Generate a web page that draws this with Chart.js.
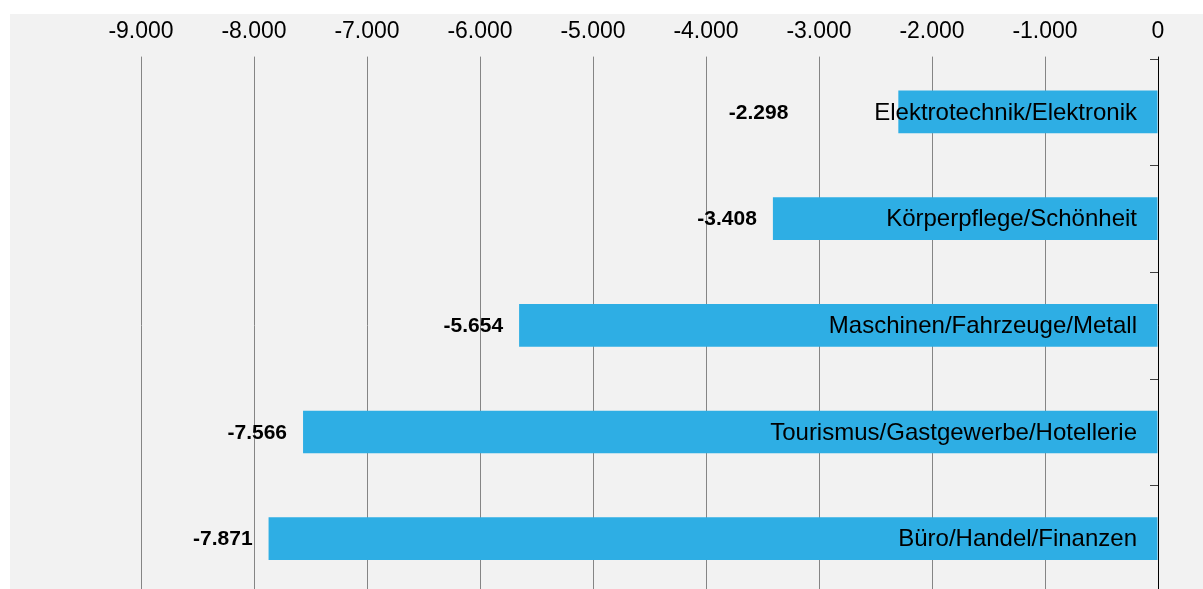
<!DOCTYPE html>
<html>
<head>
<meta charset="utf-8">
<script src="https://cdn.jsdelivr.net/npm/chart.js@4.4.1/dist/chart.umd.min.js"></script>
<style>
  html, body { margin: 0; padding: 0; background: #ffffff; width: 1203px; height: 589px; overflow: hidden; }
  #panel { position: absolute; left: 10px; top: 14px; width: 1193px; height: 590px; background: #f2f2f2; }
  #c { position: absolute; left: 0; top: 0; }
</style>
</head>
<body>
<div id="panel"><canvas id="c" width="1193" height="590"></canvas></div>
<script>
const categories = [
  "Elektrotechnik/Elektronik",
  "Körperpflege/Schönheit",
  "Maschinen/Fahrzeuge/Metall",
  "Tourismus/Gastgewerbe/Hotellerie",
  "Büro/Handel/Finanzen"
];
const values = [-2298, -3408, -5654, -7566, -7871];
const tickValues = [-9000, -8000, -7000, -6000, -5000, -4000, -3000, -2000, -1000, 0];

function fmt(v) {
  const neg = v < 0;
  const s = Math.abs(Math.round(v)).toString().replace(/\B(?=(\d{3})+(?!\d))/g, ".");
  return (neg ? "-" : "") + s;
}

const FONT = "'Liberation Sans', Arial, sans-serif";
const labelExtraOffset = [94, 0, 0, 0, 0];

const labelPlugin = {
  id: "barLabels",
  afterDatasetsDraw(chart) {
    const ctx = chart.ctx;
    const area = chart.chartArea;
    const meta = chart.getDatasetMeta(0);
    ctx.save();
    meta.data.forEach((bar, i) => {
      ctx.textBaseline = "middle";
      ctx.fillStyle = "#000000";
      ctx.textAlign = "right";
      ctx.font = "24px " + FONT;
      ctx.fillText(categories[i], area.right - 21, bar.y + 1);
      ctx.font = "bold 21px " + FONT;
      ctx.fillText(fmt(values[i]), bar.x - 16 - labelExtraOffset[i], bar.y + 1);
    });
    // inward ticks on the right axis at category boundaries
    const ys = chart.scales.y;
    ctx.strokeStyle = "#404040";
    ctx.lineWidth = 1;
    for (let k = 0; k <= categories.length; k++) {
      const y = Math.round(ys.getPixelForValue(k - 0.5)) + 0.5;
      ctx.beginPath();
      ctx.moveTo(area.right - 8, y);
      ctx.lineTo(area.right, y);
      ctx.stroke();
    }
    ctx.restore();
  }
};

new Chart(document.getElementById("c"), {
  type: "bar",
  data: {
    labels: categories,
    datasets: [{
      data: values,
      backgroundColor: "#2eaee4",
      borderWidth: 0,
      barPercentage: 0.4,
      categoryPercentage: 1.0
    }]
  },
  options: {
    indexAxis: "y",
    responsive: false,
    animation: false,
    devicePixelRatio: 1,
    layout: { padding: { left: 18, right: 45, top: 0, bottom: 12 } },
    plugins: { legend: { display: false }, tooltip: { enabled: false } },
    scales: {
      x: {
        position: "top",
        min: -10000,
        max: 0,
        afterBuildTicks(scale) {
          scale.ticks = [-10000].concat(tickValues).map(v => ({ value: v }));
        },
        afterFit(scale) { scale.height = 44.6; },
        border: { display: false },
        grid: {
          color: (c) => (c.tick && c.tick.value === -10000) ? "rgba(0,0,0,0)" : (c.tick && c.tick.value === 0 ? "#000000" : "#858585"),
          lineWidth: 1,
          drawTicks: true,
          tickLength: 2
        },
        ticks: {
          color: "#000000",
          font: { family: FONT, size: 23 },
          padding: 11,
          maxRotation: 0,
          autoSkip: false,
          callback: (v) => (v === -10000 ? "" : fmt(v))
        }
      },
      y: {
        position: "right",
        afterFit(scale) { scale.width = 0; },
        grid: { display: false },
        ticks: { display: false },
        border: { display: true, color: "#000000", width: 1 }
      }
    }
  },
  plugins: [labelPlugin]
});
</script>
</body>
</html>
